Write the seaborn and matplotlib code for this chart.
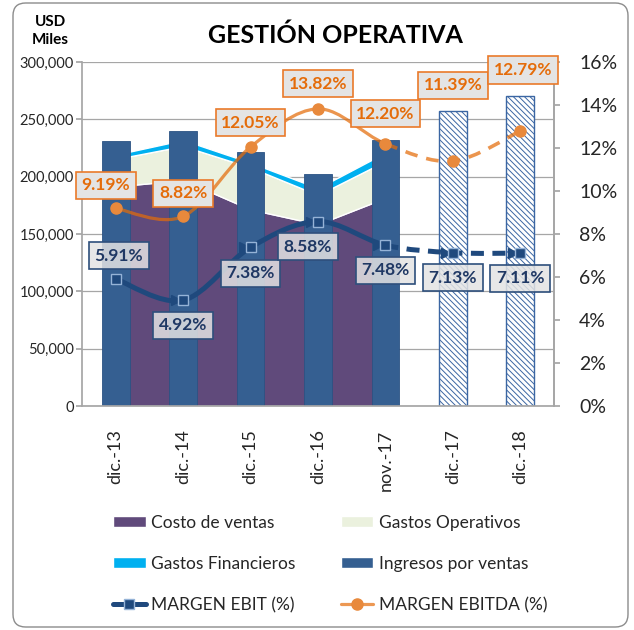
import numpy as np
import pandas as pd
import seaborn as sns
import matplotlib.pyplot as plt
from matplotlib.path import Path
from matplotlib.patches import PathPatch, Patch, FancyBboxPatch
from matplotlib.lines import Line2D
from matplotlib.ticker import FuncFormatter, MultipleLocator
from matplotlib.transforms import ScaledTranslation

# Data (USD miles and %)
periodos = ['dic.-13', 'dic.-14', 'dic.-15', 'dic.-16', 'nov.-17', 'dic.-17', 'dic.-18']
ingresos = [231400, 239500, 221200, 202100, 232000, 257500, 270300]
costo_ventas = [191500, 197000, 171400, 158500, 181500]
gastos_operativos = [23900, 29700, 36600, 25500, 32100]
gastos_financieros = [3800, 5300, 4200, 6000, 7400]
margen_ebit = [5.91, 4.92, 7.38, 8.58, 7.48, 7.13, 7.11]
margen_ebitda = [9.19, 8.82, 12.05, 13.82, 12.20, 11.39, 12.79]
n_real = 5  # first 5 periods are actuals, the rest projections

# label offsets (pixels) from their point
ebitda_off = [(-10, 23), (0, 23), (0, 24), (0, 25), (0, 30), (0, 76), (3, 61)]
ebit_off = [(3, 23), (0, -25), (0, -26), (-10, -25), (0, -25), (0, -25), (0, -25)]

C_BAR = '#355F91'
C_COSTO = '#604A7B'
C_GOP = '#EBF1DE'
C_GFIN = '#00B0F0'
C_EBIT = '#1F497D'
C_EBITDA = '#E46C0A'
C_GRID = '#A6A6A6'


def smooth_path(xs, ys, i0, i1):
    # Excel style smoothed line, catmull-rom as cubic bezier
    n = len(xs)
    verts = [(xs[i0], ys[i0])]
    codes = [Path.MOVETO]
    for i in range(i0, i1):
        a = max(i - 1, 0)
        d = min(i + 2, n - 1)
        c1 = (xs[i] + (xs[i + 1] - xs[a]) / 6, ys[i] + (ys[i + 1] - ys[a]) / 6)
        c2 = (xs[i + 1] - (xs[d] - xs[i]) / 6, ys[i + 1] - (ys[d] - ys[i]) / 6)
        verts += [c1, c2, (xs[i + 1], ys[i + 1])]
        codes += [Path.CURVE4] * 3
    return Path(verts, codes)


sns.set_theme(style='white')
plt.rcParams['font.family'] = ['Lato', 'DejaVu Sans']
plt.rcParams['hatch.linewidth'] = 0.7

fig = plt.figure(figsize=(6.34, 6.30), dpi=100)
ax = fig.add_axes([82 / 634, 1 - 406 / 630, 472 / 634, 344 / 630])

# stacked areas (actuals only)
x_real = np.arange(n_real)
ax.stackplot(x_real, costo_ventas, gastos_operativos, gastos_financieros,
             colors=[C_COSTO, C_GOP, C_GFIN], zorder=1)

df = pd.DataFrame({'periodo': periodos, 'ingresos': ingresos})
sns.barplot(data=df, x='periodo', y='ingresos', color=C_BAR, saturation=1,
            width=0.41, ax=ax)
for i, bar in enumerate(ax.patches):
    bar.set_zorder(2)
    if i >= n_real:
        bar.set_facecolor('white')
        bar.set_hatch('\\\\\\\\\\\\')
        bar.set_edgecolor('#3B66A3')
        bar.set_linewidth(1.0)
    else:
        bar.set_edgecolor('#2B5283')
        bar.set_linewidth(0.6)

ax.set_xlim(-0.5, 6.5)
ax.set_ylim(0, 300000)
ax.yaxis.set_major_locator(MultipleLocator(50000))
ax.yaxis.set_major_formatter(FuncFormatter(lambda v, p: f'{v:,.0f}'))
ax.set_xlabel('')
ax.set_ylabel('')
ax.yaxis.grid(True, color=C_GRID, lw=0.9)
ax.set_axisbelow(True)
ax.tick_params(axis='y', left=True, length=4, color=C_GRID, labelsize=10.5, pad=2)
ax.tick_params(axis='x', bottom=False, labelsize=13, pad=11, labelrotation=90)
for s in ['left', 'bottom', 'right']:
    ax.spines[s].set_color(C_GRID)
ax.spines['top'].set_visible(False)

# margins on the right axis
ax2 = ax.twinx()
ax2.set_ylim(0, 16)
ax2.yaxis.set_major_locator(MultipleLocator(2))
ax2.yaxis.set_major_formatter(FuncFormatter(lambda v, p: f'{v:.0f}%'))
ax2.tick_params(axis='y', right=True, length=4, color=C_GRID, labelsize=14, pad=14)
ax2.grid(False)
for s in ['left', 'bottom', 'top']:
    ax2.spines[s].set_visible(False)
ax2.spines['right'].set_color(C_GRID)

xs = np.arange(len(periodos))
last = len(periodos) - 1

# EBITDA
ax2.add_patch(PathPatch(smooth_path(xs, margen_ebitda, 0, n_real - 1), fill=False,
                        ec=C_EBITDA, lw=2.3, alpha=0.72, zorder=3))
ax2.add_patch(PathPatch(smooth_path(xs, margen_ebitda, n_real - 1, last), fill=False,
                        ec=C_EBITDA, lw=2.6, alpha=0.72, ls=(0, (3.5, 2.5)), zorder=3))
ax2.plot(xs, margen_ebitda, ls='none', marker='o', ms=8, color='#E8893C', zorder=4)

# EBIT
ax2.add_patch(PathPatch(smooth_path(xs, margen_ebit, 0, n_real - 1), fill=False,
                        ec=C_EBIT, lw=3.6, zorder=3))
ax2.add_patch(PathPatch(smooth_path(xs, margen_ebit, n_real - 1, last), fill=False,
                        ec=C_EBIT, lw=3.6, ls=(0, (2.6, 1.7)), zorder=3))
arrow_tr = ax2.transData + ScaledTranslation(-7 / 100, 0, fig.dpi_scale_trans)
ax2.plot(xs[1:], margen_ebit[1:], ls='none', marker='>', ms=7, color=C_EBIT,
         transform=arrow_tr, zorder=4)
ax2.plot(xs, margen_ebit, ls='none', marker='s', ms=7.5, mfc=C_EBIT, mec='#95B3D7',
         mew=1, zorder=5)

for i, v in enumerate(margen_ebitda):
    ax2.annotate(f'{v:.2f}%', (i, v), xytext=ebitda_off[i], textcoords='offset pixels',
                 ha='center', va='center', fontsize=12.5, fontweight='bold', color=C_EBITDA,
                 bbox=dict(boxstyle='square,pad=0.32', fc='#E4E4E4', ec='#EA7A2A', lw=1.2),
                 zorder=6)
for i, v in enumerate(margen_ebit):
    ax2.annotate(f'{v:.2f}%', (i, v), xytext=ebit_off[i], textcoords='offset pixels',
                 ha='center', va='center', fontsize=12.5, fontweight='bold', color='#1F3864',
                 bbox=dict(boxstyle='square,pad=0.32', fc=(0.89, 0.89, 0.89, 0.85),
                           ec='#2E4F7C', lw=1.2),
                 zorder=6)

# titles
fig.text(335 / 634, 1 - 35 / 630, 'GESTIÓN OPERATIVA', ha='center', va='center',
         fontsize=18, fontweight='bold', color='black')
fig.text(50 / 634, 1 - 31 / 630, 'USD\nMiles', ha='center', va='center',
         fontsize=11, fontweight='bold', linespacing=1.3, color='black')

# legend (column-major order for 2 columns)
h_costo = Patch(fc=C_COSTO, label='Costo de ventas')
h_gop = Patch(fc=C_GOP, label='Gastos Operativos')
h_gfin = Patch(fc=C_GFIN, label='Gastos Financieros')
h_ing = Patch(fc=C_BAR, label='Ingresos por ventas')
h_ebit = Line2D([], [], color=C_EBIT, lw=3.6, marker='s', ms=7.5, mfc=C_EBIT,
                mec='#95B3D7', label='MARGEN EBIT (%)')
h_ebitda = Line2D([], [], color='#EC9853', lw=2.3, marker='o', ms=8, mfc='#E8893C',
                  mec='#E8893C', label='MARGEN EBITDA (%)')
fig.legend(handles=[h_costo, h_gfin, h_ebit, h_gop, h_ing, h_ebitda], ncol=2,
           loc='center', bbox_to_anchor=(330 / 634, 1 - 564 / 630), frameon=False,
           fontsize=12.5, handlelength=1.9, handleheight=0.6, handletextpad=0.3,
           labelspacing=1.45, columnspacing=2.6, borderpad=0)

# rounded outer border
fig.patches.append(FancyBboxPatch((13 / 634, 3 / 630), 615 / 634, 624 / 630,
                                  boxstyle='round,pad=0,rounding_size=0.02',
                                  transform=fig.transFigure, fill=False,
                                  ec='#8C8C8C', lw=1.0))

fig.savefig('out.png', dpi=100)
